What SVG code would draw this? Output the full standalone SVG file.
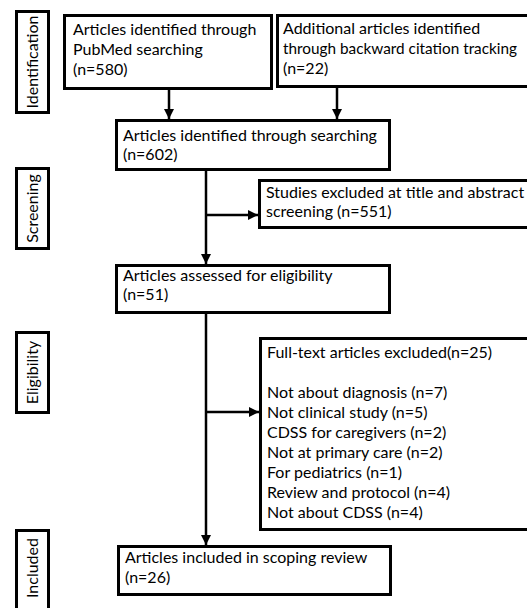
<svg xmlns="http://www.w3.org/2000/svg" width="527" height="608" viewBox="0 0 527 608">
<style>
.box{fill:#fff;stroke:#000;stroke-width:3}
.t{font-family:Lato,"Liberation Sans",sans-serif;font-size:16px;fill:#000}
.c{stroke:#000;stroke-width:2.5;fill:none}
</style>
<defs>
<marker id="ah" viewBox="0 0 10 10" refX="10" refY="5" markerWidth="4" markerHeight="4" orient="auto" markerUnits="strokeWidth">
<path d="M0,0 L10,5 L0,10 z" fill="#000"/>
</marker>
</defs>
<rect width="527" height="608" fill="#fff"/>
<g id="phase-identification"><rect class="box" x="16.5" y="11.5" width="32" height="101"/><text class="t" transform="translate(38,62) rotate(-90)" text-anchor="middle">Identification</text></g>
<g id="phase-screening"><rect class="box" x="16.5" y="168.5" width="32" height="80"/><text class="t" transform="translate(38,208.5) rotate(-90)" text-anchor="middle">Screening</text></g>
<g id="phase-eligibility"><rect class="box" x="16.5" y="332.5" width="32" height="80"/><text class="t" transform="translate(38,372.5) rotate(-90)" text-anchor="middle">Eligibility</text></g>
<g id="phase-included"><rect class="box" x="16.5" y="530.5" width="32" height="90"/><text class="t" transform="translate(38,568) rotate(-90)" text-anchor="middle">Included</text></g>

<g id="pubmed"><rect class="box" x="64.5" y="15.5" width="207" height="73"/>
<text class="t" x="73" y="35">Articles identified through</text>
<text class="t" x="73" y="55">PubMed searching</text>
<text class="t" x="73" y="75">(n=580)</text></g>
<g id="additional"><rect class="box" x="277.5" y="15.5" width="260" height="71"/>
<text class="t" x="283" y="34">Additional articles identified</text>
<text class="t" x="283" y="54" textLength="234" lengthAdjust="spacingAndGlyphs">through backward citation tracking</text>
<text class="t" x="283" y="74">(n=22)</text></g>
<g id="searching"><rect class="box" x="116.5" y="120.5" width="273" height="49"/>
<text class="t" x="123" y="141">Articles identified through searching</text>
<text class="t" x="123" y="160">(n=602)</text></g>
<g id="excluded-screening"><rect class="box" x="259.5" y="180.5" width="280" height="47"/>
<text class="t" x="266" y="198">Studies excluded at title and abstract</text>
<text class="t" x="266" y="217">screening (n=551)</text></g>
<g id="eligibility"><rect class="box" x="116.5" y="265.5" width="273" height="47"/>
<text class="t" x="123" y="281">Articles assessed for eligibility</text>
<text class="t" x="123" y="300">(n=51)</text></g>
<g id="excluded-fulltext"><rect class="box" x="260.5" y="338.5" width="280" height="191"/>
<text class="t" x="267" y="358">Full-text articles excluded(n=25)</text>
<text class="t" x="267" y="398">Not about diagnosis (n=7)</text>
<text class="t" x="267" y="418">Not clinical study (n=5)</text>
<text class="t" x="267" y="438">CDSS for caregivers (n=2)</text>
<text class="t" x="267" y="458">Not at primary care (n=2)</text>
<text class="t" x="267" y="478">For pediatrics (n=1)</text>
<text class="t" x="267" y="498">Review and protocol (n=4)</text>
<text class="t" x="267" y="518">Not about CDSS (n=4)</text></g>
<g id="included"><rect class="box" x="118.5" y="546.5" width="272" height="48"/>
<text class="t" x="125" y="563">Articles included in scoping review</text>
<text class="t" x="125" y="583">(n=26)</text></g>

<g id="connectors">
<line class="c" x1="169" y1="89" x2="169" y2="119" marker-end="url(#ah)"/>
<line class="c" x1="337" y1="87" x2="337" y2="119" marker-end="url(#ah)"/>
<line class="c" x1="206" y1="170" x2="206" y2="264" marker-end="url(#ah)"/>
<line class="c" x1="206" y1="215" x2="258" y2="215" marker-end="url(#ah)"/>
<line class="c" x1="206" y1="313" x2="206" y2="545" marker-end="url(#ah)"/>
<line class="c" x1="206" y1="412" x2="259" y2="412" marker-end="url(#ah)"/>
</g>
</svg>
